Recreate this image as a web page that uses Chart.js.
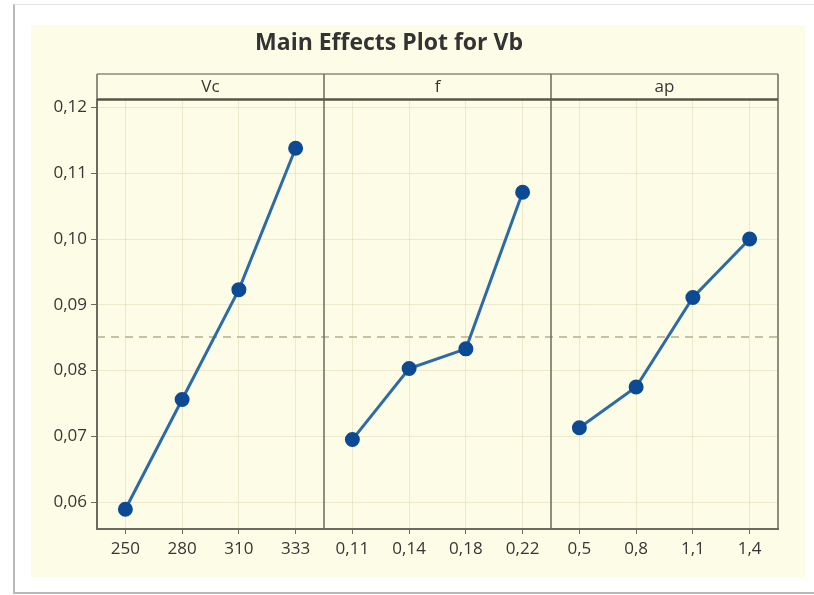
<!DOCTYPE html>
<html>
<head>
<meta charset="utf-8">
<script src="https://cdn.jsdelivr.net/npm/chart.js@4.4.0/dist/chart.umd.min.js"></script>
<style>
html, body { margin: 0; padding: 0; background: #fff; }
#frame { position: absolute; left: 13px; top: 4px; width: 820px; height: 587px; border-left: 2px solid #b9b9b9; border-top: 1px solid #e4e4e4; border-bottom: 2px solid #b9b9b9; }
#panel { position: absolute; left: 31px; top: 25px; width: 774px; height: 552px; background: #fdfce6; }
#wrap { position: absolute; left: 0; top: 0; width: 814px; height: 595px; }
</style>
</head>
<body>
<div id="frame"></div>
<div id="panel"></div>
<div id="wrap"><canvas id="main" width="814" height="595"></canvas></div>
<script>
// factors and their levels
const factors = ["Vc", "f", "ap"];
const vcLevels = ["250", "280", "310", "333"];
const fLevels = ["0,11", "0,14", "0,18", "0,22"];
const apLevels = ["0,5", "0,8", "1,1", "1,4"];

// mean of Vb at each level
const vcMeans = [0.0589, 0.0756, 0.0923, 0.1138];
const fMeans = [0.0695, 0.0803, 0.0833, 0.1071];
const apMeans = [0.0713, 0.0775, 0.0911, 0.1000];
const grandMean = 0.0851;

const FONT = "'Open Sans', 'Noto Sans', sans-serif";
const frameColor = "#6b6b5f";
const gridColor = "rgba(214, 210, 175, 0.45)";
const lineColor = "#2c6aa9";
const dotColor = "#0c4b93";
const textColor = "#363636";

function panelAxis(labels) {
	return {
		type: "category",
		labels: labels,
		position: "bottom",
		stack: "panels",
		stackWeight: 1,
		offset: true,
		afterFit: (s) => { s.height = 40; },
		grid: { color: gridColor, tickColor: frameColor, tickLength: 5, offset: false },
		border: { color: frameColor, width: 2 },
		ticks: {
			font: { family: FONT, size: 17 },
			color: textColor,
			padding: 5,
			autoSkip: false,
			maxRotation: 0,
			minRotation: 0,
		},
	};
}

function panelLine(values, axisId) {
	return {
		data: values,
		xAxisID: axisId,
		borderColor: lineColor,
		borderWidth: 3,
		pointRadius: 6.5,
		pointBorderWidth: 2,
		pointBackgroundColor: dotColor,
		pointBorderColor: dotColor,
		tension: 0,
	};
}

// strip header + panel frame
const stripPlugin = {
	id: "strip",
	afterDraw(chart) {
		const c = chart.ctx;
		const ca = chart.chartArea;
		const stripTop = 74;
		const xs = [chart.scales.xVc, chart.scales.xf, chart.scales.xap];
		c.save();
		c.strokeStyle = "#8a8a7c";
		c.lineWidth = 1.5;
		c.beginPath();
		c.moveTo(ca.left, stripTop);
		c.lineTo(ca.right, stripTop);
		c.stroke();
		c.strokeStyle = frameColor;
		c.lineWidth = 1.5;
		c.beginPath();
		xs.forEach((s) => {
			c.moveTo(s.left, stripTop);
			c.lineTo(s.left, ca.bottom);
		});
		c.moveTo(ca.right, stripTop);
		c.lineTo(ca.right, ca.bottom);
		c.stroke();
		c.strokeStyle = "#55554c";
		c.lineWidth = 2.5;
		c.beginPath();
		c.moveTo(ca.left, ca.top);
		c.lineTo(ca.right, ca.top);
		c.stroke();
		c.fillStyle = textColor;
		c.font = "17px " + FONT;
		c.textAlign = "center";
		c.textBaseline = "middle";
		xs.forEach((s, i) => {
			c.fillText(factors[i], (s.left + s.right) / 2, (stripTop + ca.top) / 2);
		});
		c.restore();
	},
};

const ctx = document.getElementById("main").getContext("2d");
const chart = new Chart(ctx, {
	type: "line",
	data: {
		datasets: [
			panelLine(vcMeans, "xVc"),
			panelLine(fMeans, "xf"),
			panelLine(apMeans, "xap"),
			{
				data: [{ x: 0, y: grandMean }, { x: 1, y: grandMean }],
				xAxisID: "xm",
				borderColor: "rgba(196, 191, 158, 0.95)",
				borderWidth: 2,
				borderDash: [8, 6],
				pointRadius: 0,
			},
		],
	},
	options: {
		responsive: false,
		animation: false,
		layout: { padding: { left: 0, right: 36, top: 0, bottom: 26 } },
		plugins: {
			legend: { display: false },
			tooltip: { enabled: false },
			title: {
				display: true,
				text: "Main Effects Plot for Vb",
				color: "#333",
				font: { family: FONT, size: 23, weight: "bold" },
				padding: { top: 30, bottom: 42 },
			},
		},
		scales: {
			y: {
				position: "left",
				min: 0.0559,
				max: 0.1212,
				afterFit: (s) => { s.width = 97; },
				ticks: {
					stepSize: 0.01,
					includeBounds: false,
					color: textColor,
					font: { family: FONT, size: 17 },
					padding: 4,
					callback: (v) => v.toFixed(2).replace(".", ","),
				},
				grid: { color: gridColor, tickColor: frameColor, tickLength: 6 },
				border: { color: frameColor, width: 2 },
			},
			xVc: panelAxis(vcLevels),
			xf: panelAxis(fLevels),
			xap: panelAxis(apLevels),
			xm: { type: "linear", display: false, min: 0, max: 1 },
		},
	},
	plugins: [stripPlugin],
});
</script>
</body>
</html>
